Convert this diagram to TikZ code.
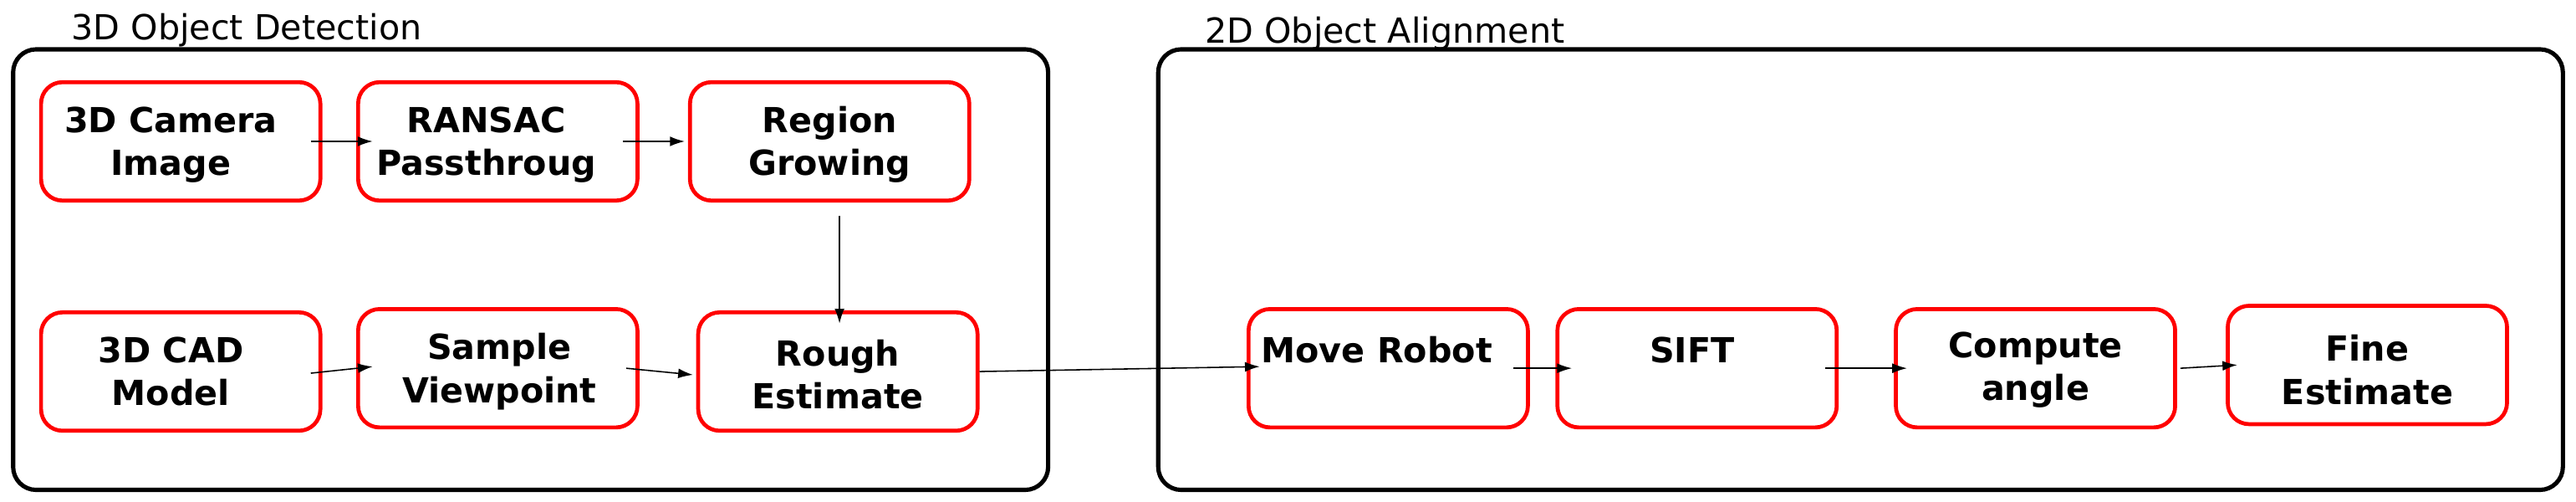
\documentclass[tikz,border=0pt]{standalone}
\usepackage{fontspec}
\setmainfont{DejaVu Sans}
\usetikzlibrary{arrows.meta}
\begin{document}
\begin{tikzpicture}[x=1pt,y=-1pt,
  outer/.style={draw=black,line width=2.6pt,rounded corners=14pt},
  redbox/.style={draw=red,line width=2.4pt,rounded corners=13pt,minimum width=170pt,minimum height=72pt,inner sep=0pt},
  lbl/.style={font=\fontsize{21}{26}\selectfont\bfseries,align=center},
  title/.style={font=\fontsize{21}{26}\selectfont,anchor=base west},
  conn/.style={draw=black,line width=0.8pt,-{Latex[length=9pt,width=6pt]}}]
\useasboundingbox (0,0) rectangle (1568,305);
\draw[outer] (8,30) rectangle (638,298);
\draw[outer] (705,30) rectangle (1560,298);
\node[title] (t1) at (40,24) {3D Object Detection};
\node[title] (t2) at (730,26) {2D Object Alignment};
% boxes
\node[redbox] (cam) at (110,86) {};
\node[redbox] (ran) at (303,86) {};
\node[redbox] (reg) at (505,86) {};
\node[redbox] (cad) at (110,226) {};
\node[redbox] (sam) at (303,224) {};
\node[redbox] (rou) at (510,226) {};
\node[redbox] (mov) at (845,224) {};
\node[redbox] (sif) at (1033,224) {};
\node[redbox] (com) at (1239,224) {};
\node[redbox] (fin) at (1441,222) {};
% labels
\node[lbl] at (104,88) {3D Camera\\Image};
\node[lbl] at (296,88) {RANSAC\\Passthroug};
\node[lbl] at (505,88) {Region\\Growing};
\node[lbl] at (104,226) {3D CAD\\Model};
\node[lbl] at (304,226) {Sample\\Viewpoint};
\node[lbl] at (510,228) {Rough\\Estimate};
\node[lbl] at (838,213) {Move Robot};
\node[lbl] at (1030,213) {SIFT};
\node[lbl] at (1239,225) {Compute\\angle};
\node[lbl] at (1441,225) {Fine\\Estimate};
% connectors
\draw[conn] ([xshift=-7pt]cam.east) -- ([xshift=10pt]ran.west);
\draw[conn] ([xshift=-10pt]ran.east) -- ([xshift=-2pt]reg.west);
\draw[conn] ([xshift=6pt,yshift=-8pt]reg.south) -- ([xshift=1pt,yshift=-8pt]rou.north);
\draw[conn] ([xshift=-7pt,yshift=-1pt]cad.east) -- ([xshift=10pt,yshift=1pt]sam.west);
\draw[conn] ([xshift=-8pt]sam.east) -- ([xshift=-2pt,yshift=-2pt]rou.west);
\draw[conn] (rou.east) -- ([xshift=8pt,yshift=1pt]mov.west);
\draw[conn] ([xshift=-10pt]mov.east) -- ([xshift=10pt]sif.west);
\draw[conn] ([xshift=-8pt]sif.east) -- ([xshift=8pt]com.west);
\draw[conn] ([xshift=2pt]com.east) -- ([xshift=7pt]fin.west);
\end{tikzpicture}
\end{document}
